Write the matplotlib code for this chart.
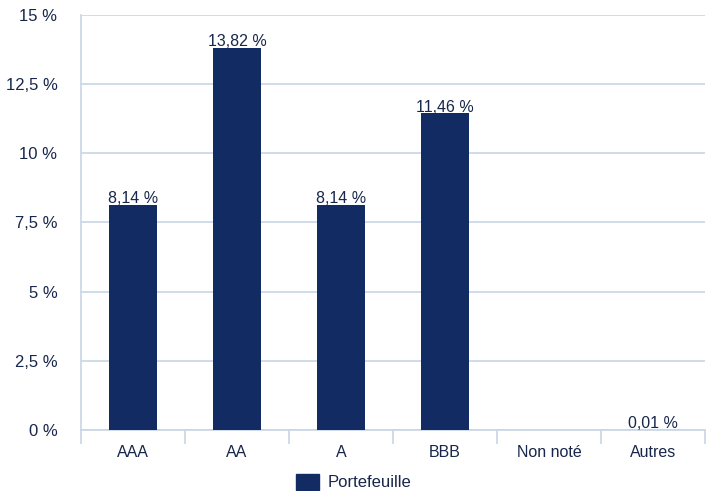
import matplotlib.pyplot as plt
from matplotlib.patches import Patch

categories = ['AAA', 'AA', 'A', 'BBB', 'Non noté', 'Autres']
values = [8.14, 13.82, 8.14, 11.46, 0.0, 0.01]
value_labels = ['8,14 %', '13,82 %', '8,14 %', '11,46 %', None, '0,01 %']
y_ticks = [0, 2.5, 5, 7.5, 10, 12.5, 15]
y_tick_labels = ['0 %', '2,5 %', '5 %', '7,5 %', '10 %', '12,5 %', '15 %']

bar_color = '#122b63'
grid_color = '#c8d5e8'
text_color = '#17264a'

plt.rcParams['font.family'] = ['Liberation Sans', 'DejaVu Sans']

fig = plt.figure(figsize=(7.07, 4.91), dpi=100)
ax = fig.add_axes([0.1146, 0.1242, 0.8824, 0.8453])

x = list(range(len(categories)))
bars = ax.bar(x, values, width=0.47, color=bar_color, zorder=3)

# value printed just above each bar, comma dipping onto the bar top
for rect, lab in zip(bars, value_labels):
    if lab is None:
        continue
    ax.annotate(lab, (rect.get_x() + rect.get_width() / 2, rect.get_height()),
                xytext=(0, 1), textcoords='offset points',
                ha='center', va='baseline', fontsize=11.5, color=text_color,
                zorder=4)

ax.set_xlim(-0.5, len(categories) - 0.5)
ax.set_ylim(0, 15)
ax.set_yticks(y_ticks)
ax.set_yticklabels(y_tick_labels)
ax.set_xticks(x)
ax.set_xticklabels(categories)
ax.set_xticks([i - 0.5 for i in range(len(categories) + 1)], minor=True)

ax.tick_params(axis='y', length=0, pad=17, labelsize=12, labelcolor=text_color)
ax.tick_params(axis='x', which='major', length=0, pad=11, labelsize=11.5,
               labelcolor=text_color)
ax.tick_params(axis='x', which='minor', length=10, width=1.2, color=grid_color)

ax.grid(axis='y', color=grid_color, linewidth=1.2, zorder=0)
for side in ['top', 'right']:
    ax.spines[side].set_visible(False)
for side in ['left', 'bottom']:
    ax.spines[side].set_color(grid_color)
    ax.spines[side].set_linewidth(1.2)

handle = Patch(facecolor=bar_color, edgecolor=bar_color)
fig.legend([handle], ['Portefeuille'], loc='center', bbox_to_anchor=(0.5, 0.018),
           frameon=False, fontsize=12, labelcolor=text_color,
           handlelength=1.4, handleheight=1.1, handletextpad=0.5)

fig.savefig('out.png', dpi=100)
